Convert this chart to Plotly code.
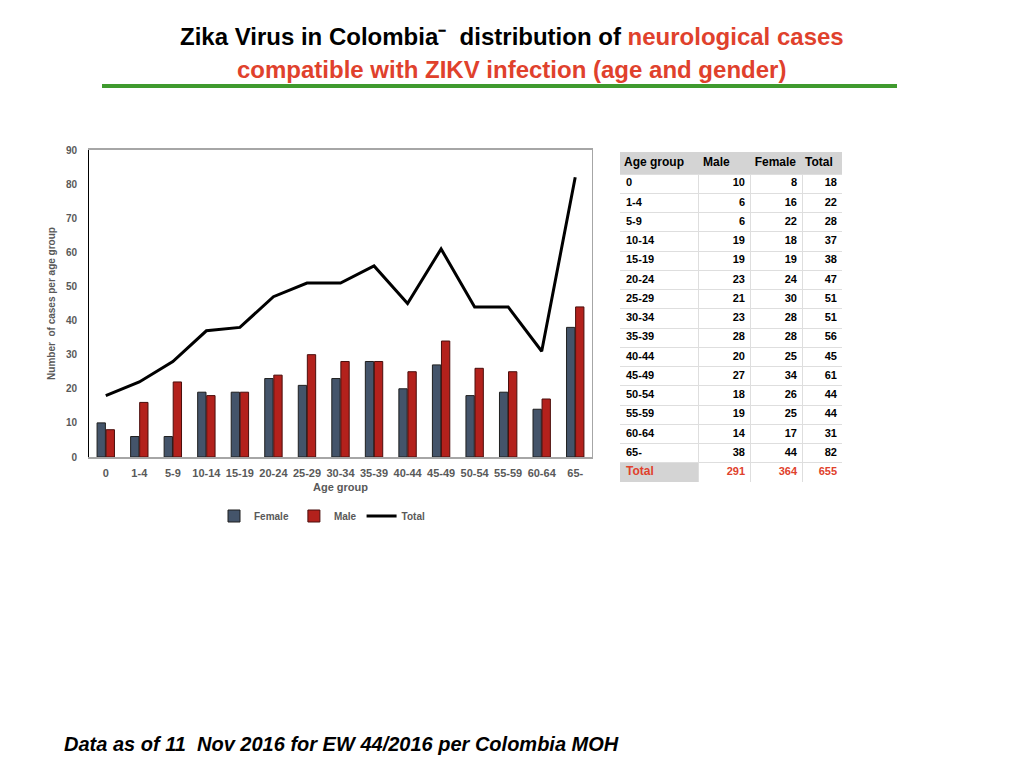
import plotly.graph_objects as go

age_groups = ['0', '1-4', '5-9', '10-14', '15-19', '20-24', '25-29', '30-34',
              '35-39', '40-44', '45-49', '50-54', '55-59', '60-64', '65-']
table_male = [10, 6, 6, 19, 19, 23, 21, 23, 28, 20, 27, 18, 19, 14, 38]
table_female = [8, 16, 22, 18, 19, 24, 30, 28, 28, 25, 34, 26, 25, 17, 44]
totals = [18, 22, 28, 37, 38, 47, 51, 51, 56, 45, 61, 44, 44, 31, 82]
table_header = ['Age group', 'Male', 'Female', 'Total']
sum_male, sum_female, sum_total = 291, 364, 655

W, H = 1024, 768
# the page puts the plot 8px in from the top-left corner, so take that off
def px(x):
    return (x - 8) / W
def py(y):
    return 1 - (y - 8) / H

RED = '#e0412c'
GREY_TXT = '#595959'
FAM = 'Liberation Sans, Arial'
axis_font = dict(family=FAM, size=11, color=GREY_TXT, weight='bold')

fig = go.Figure()

# the chart labels the first column "Female" (dark bars) and the second "Male"
fig.add_trace(go.Bar(
    x=age_groups, y=table_male, name='Female',
    marker=dict(color='#44546a', line=dict(color='#1f1f1f', width=1))
))
fig.add_trace(go.Bar(
    x=age_groups, y=table_female, name='Male',
    marker=dict(color='#b3211c', line=dict(color='#4a0e0c', width=1))
))
fig.add_trace(go.Scatter(
    x=age_groups, y=totals, name='Total', mode='lines', yaxis='y3',
    line=dict(color='black', width=3)
))

# ---- table, drawn on its own axes (units ~ pixels of the slide)
col_edges = [620, 698, 750, 802, 842]
row_edges = [152, 174] + [174 + 19.25 * (i + 1) for i in range(16)]
row_mid = [(row_edges[i] + row_edges[i + 1]) / 2 for i in range(len(row_edges) - 1)]
body_rows = row_mid[1:]

# grey fills: header row and the "Total" label cell
fill = [[1, 1, 1, 1]] + [[None] * 4 for _ in range(15)] + [[1, None, None, None]]
fig.add_trace(go.Heatmap(
    x=col_edges, y=row_edges, z=fill, xaxis='x2', yaxis='y2',
    colorscale=[[0, '#d4d4d4'], [1, '#d4d4d4']], showscale=False,
    hoverinfo='skip', showlegend=False
))

txt_colors = ['black'] * len(age_groups) + [RED]
txt_sizes = [11] * len(age_groups) + [12]
cell_font = dict(family=FAM, size=11, weight='bold')

fig.add_trace(go.Scatter(
    x=[col_edges[0] + 6] * (len(age_groups) + 1), y=body_rows,
    text=age_groups + ['Total'], mode='text',
    textposition='middle right', xaxis='x2', yaxis='y2',
    textfont=dict(color=txt_colors, family=FAM, size=txt_sizes, weight='bold'),
    hoverinfo='skip', showlegend=False
))
for ci, col in enumerate([table_male + [sum_male], table_female + [sum_female],
                          totals + [sum_total]]):
    fig.add_trace(go.Scatter(
        x=[col_edges[ci + 2] - 5] * len(col), y=body_rows,
        text=[str(v) for v in col], mode='text',
        textposition='middle left', xaxis='x2', yaxis='y2',
        textfont=dict(color=txt_colors, **cell_font),
        hoverinfo='skip', showlegend=False
    ))
fig.add_trace(go.Scatter(
    x=[624, 703, 796, 805], y=[row_mid[0]] * 4,
    text=table_header, mode='text',
    textposition=['middle right', 'middle right', 'middle left', 'middle right'],
    xaxis='x2', yaxis='y2',
    textfont=dict(color='black', family=FAM, size=12, weight='bold'),
    hoverinfo='skip', showlegend=False
))

fig.update_layout(
    width=W, height=H,
    margin=dict(l=0, r=0, t=0, b=0, autoexpand=False),
    paper_bgcolor='white', plot_bgcolor='white',
    barmode='group', bargap=0.46, bargroupgap=0.08,
    showlegend=True,
    legend=dict(orientation='h', x=px(322), xanchor='center', y=py(516), yanchor='middle',
                font=dict(family=FAM, size=10, color=GREY_TXT, weight='bold'),
                itemwidth=30, traceorder='normal'),
    xaxis=dict(domain=[px(89), px(592)], showline=True, mirror=True,
               linecolor='#a6a6a6', linewidth=1.5, ticks='', automargin=False,
               tickfont=axis_font, ticklabelstandoff=5,
               title=dict(text='Age group', font=axis_font, standoff=5)),
    yaxis=dict(domain=[py(457), py(150)], range=[0, 90], dtick=10,
               showline=True, linecolor='black', linewidth=1,
               showgrid=False, zeroline=False, ticks='', automargin=False,
               tickfont=dict(family=FAM, size=10, color=GREY_TXT, weight='bold'),
               ticklabelstandoff=9,
               title=dict(text='Number  of cases per age group',
                          font=dict(family=FAM, size=10, color=GREY_TXT, weight='bold'),
                          standoff=8)),
    yaxis3=dict(overlaying='y', matches='y', side='right', showline=True,
                linecolor='#a6a6a6', linewidth=1, showgrid=False, zeroline=False,
                showticklabels=False, ticks='', automargin=False),
    xaxis2=dict(domain=[px(620), px(842)], range=[620, 842], anchor='y2',
                tickvals=col_edges, showgrid=True, gridcolor='#dedede', gridwidth=1,
                showticklabels=False, ticks='', zeroline=False, showline=False,
                automargin=False),
    yaxis2=dict(domain=[py(482), py(152)], range=[482, 152], anchor='x2',
                tickvals=row_edges, showgrid=True, gridcolor='#dedede', gridwidth=1,
                showticklabels=False, ticks='', zeroline=False, showline=False,
                automargin=False),
    font=dict(family=FAM),
)

# title, green rule and footnote
title_font = dict(family='Liberation Sans Narrow, Arial Narrow, Liberation Sans', size=24,
                  weight='bold')
fig.add_annotation(
    x=px(512), y=py(37), xref='paper', yref='paper', showarrow=False,
    xanchor='center', yanchor='middle',
    text='Zika Virus in Colombia\u207b  distribution of '
         '<span style="color:%s">neurological cases</span>' % RED,
    font=dict(color='black', **title_font)
)
fig.add_annotation(
    x=px(511), y=py(69), xref='paper', yref='paper', showarrow=False,
    xanchor='center', yanchor='middle',
    text='compatible with ZIKV infection (age and gender)',
    font=dict(color=RED, **title_font)
)
fig.add_shape(type='line', xref='paper', yref='paper',
              x0=px(102), x1=px(897), y0=py(86), y1=py(86),
              line=dict(color='#3f9a2e', width=4))
fig.add_annotation(
    x=px(62), y=py(744), xref='paper', yref='paper', showarrow=False,
    xanchor='left', yanchor='middle',
    text='<i>Data as of 11  Nov 2016 for EW 44/2016 per Colombia MOH</i>',
    font=dict(family=FAM, size=20, color='black', weight='bold')
)

fig.write_html('out.html')
